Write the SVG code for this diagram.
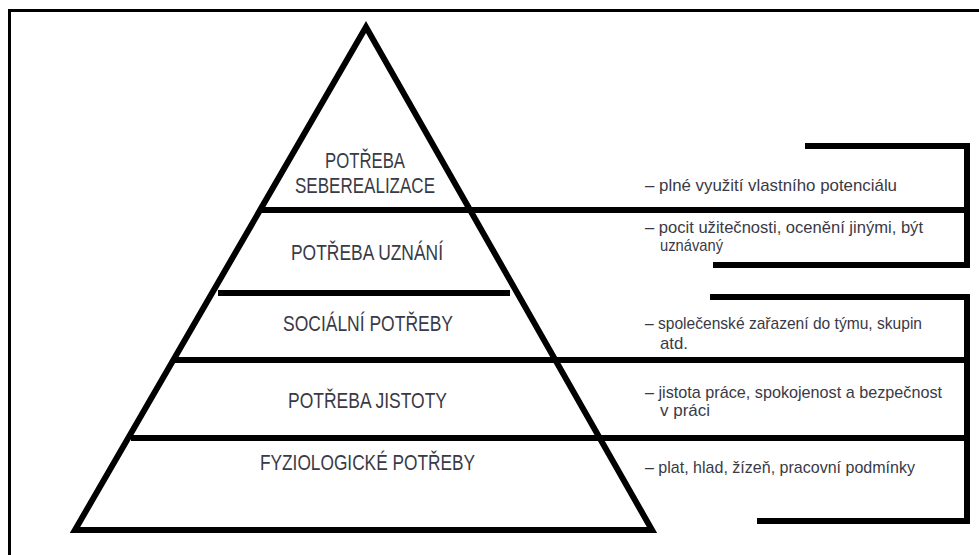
<svg xmlns="http://www.w3.org/2000/svg" width="979" height="555" viewBox="0 0 979 555">
  <style>
    .frame { stroke: #000; stroke-width: 3; fill: none; }
    .thick { stroke: #000; stroke-width: 6; fill: none; stroke-linejoin: miter; }
    .lvl { font-family: "Liberation Sans", Arial, sans-serif; font-size: 22px; fill: #3a3a46; }
    .desc { font-family: "Liberation Sans", Arial, sans-serif; font-size: 17px; fill: #3a3a46; }
  </style>
  <rect x="0" y="0" width="979" height="555" fill="#fff"/>
  <g id="frame">
    <path class="frame" d="M9.5,555 V10.5 H979"/>
  </g>
  <g id="pyramid">
    <path class="thick" d="M366,27 L75,530 L652,530 Z"/>
  </g>
  <g id="connectors">
    <line class="thick" x1="261" y1="210" x2="970" y2="210"/>
    <line class="thick" x1="218" y1="293" x2="510" y2="293"/>
    <line class="thick" x1="175" y1="360" x2="970" y2="360"/>
    <line class="thick" x1="131" y1="438" x2="970" y2="438"/>
    <path class="thick" d="M805,146 H967 V265 H713"/>
    <path class="thick" d="M710,297 H967 V521 H757"/>
  </g>
  <g id="level-seberealizace">
    <text class="lvl" x="325" y="168" textLength="80" lengthAdjust="spacingAndGlyphs">POTŘEBA</text>
    <text class="lvl" x="295" y="193" textLength="140" lengthAdjust="spacingAndGlyphs">SEBEREALIZACE</text>
  </g>
  <g id="level-uznani">
    <text class="lvl" x="291" y="260" textLength="152" lengthAdjust="spacingAndGlyphs">POTŘEBA UZNÁNÍ</text>
  </g>
  <g id="level-socialni">
    <text class="lvl" x="283" y="331" textLength="170" lengthAdjust="spacingAndGlyphs">SOCIÁLNÍ POTŘEBY</text>
  </g>
  <g id="level-jistota">
    <text class="lvl" x="288" y="408" textLength="159" lengthAdjust="spacingAndGlyphs">POTŘEBA JISTOTY</text>
  </g>
  <g id="level-fyziologicke">
    <text class="lvl" x="260" y="470" textLength="215" lengthAdjust="spacingAndGlyphs">FYZIOLOGICKÉ POTŘEBY</text>
  </g>
  <g id="desc-seberealizace">
    <text class="desc" x="645" y="191" textLength="252" lengthAdjust="spacingAndGlyphs">– plné využití vlastního potenciálu</text>
  </g>
  <g id="desc-uznani">
    <text class="desc" x="645" y="233" textLength="278" lengthAdjust="spacingAndGlyphs">– pocit užitečnosti, ocenění jinými, být</text>
    <text class="desc" x="660" y="251" textLength="63" lengthAdjust="spacingAndGlyphs">uznávaný</text>
  </g>
  <g id="desc-socialni">
    <text class="desc" x="645" y="329" textLength="277" lengthAdjust="spacingAndGlyphs">– společenské zařazení do týmu, skupin</text>
    <text class="desc" x="660" y="349" textLength="28" lengthAdjust="spacingAndGlyphs">atd.</text>
  </g>
  <g id="desc-jistota">
    <text class="desc" x="645" y="398" textLength="297" lengthAdjust="spacingAndGlyphs">– jistota práce, spokojenost a bezpečnost</text>
    <text class="desc" x="660" y="416" textLength="50" lengthAdjust="spacingAndGlyphs">v práci</text>
  </g>
  <g id="desc-fyziologicke">
    <text class="desc" x="645" y="473" textLength="270" lengthAdjust="spacingAndGlyphs">– plat, hlad, žízeň, pracovní podmínky</text>
  </g>
</svg>
